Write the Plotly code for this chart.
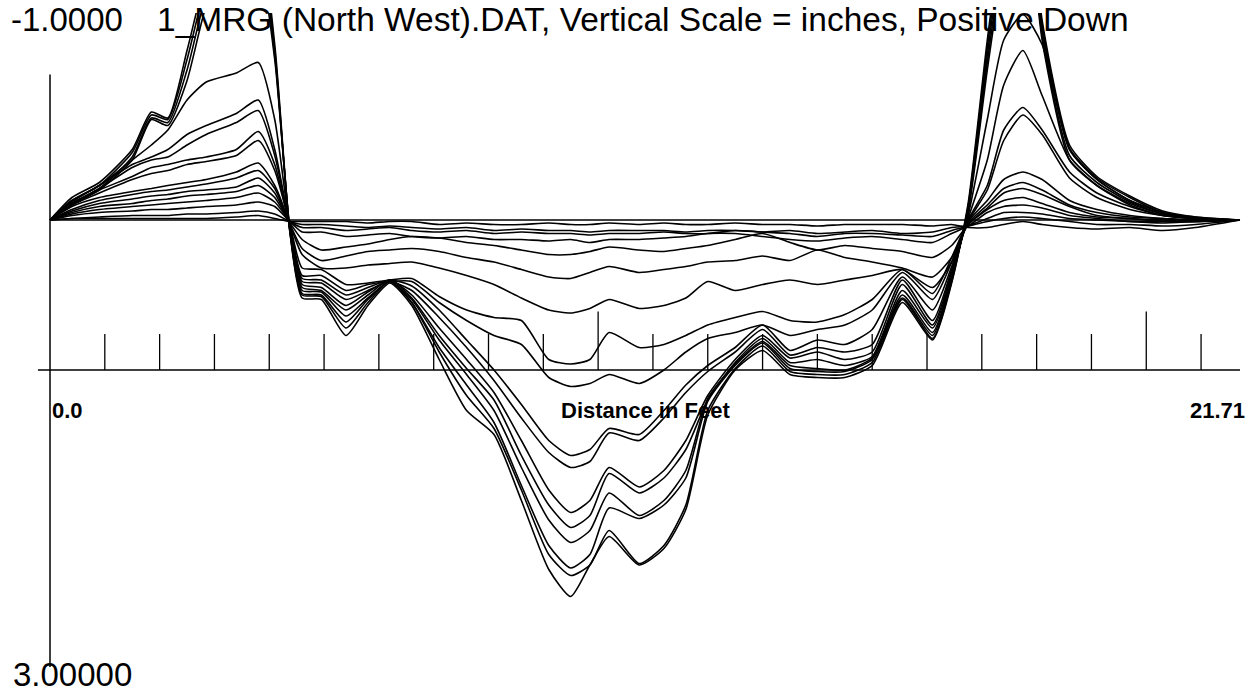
import plotly.graph_objects as go

# Distance along the transverse profile (feet)
DIST_FT = [0.0, 0.4, 0.9, 1.5, 1.85, 2.15, 2.5, 2.85, 3.4, 3.8, 4.1, 4.38, 4.6,
           4.95, 5.4, 5.8, 6.2, 6.6, 7.1, 7.6, 8.1, 8.6, 9.1, 9.5, 9.85, 10.2, 10.75,
           11.2, 11.6, 12.0, 12.5, 13.0, 13.5, 14.0, 14.5, 15.0, 15.55, 16.1, 16.45,
           16.75, 17.1, 17.4, 17.75, 18.1, 18.6, 19.1, 19.7, 20.3, 20.9, 21.71]

# Elevation change (inches, positive down), one list per survey
SURVEY_01 = [0.00, 0.00, 0.00, 0.00, 0.00, 0.00, 0.00, 0.00, 0.00, 0.00, 0.00, 0.00, 0.00,
             0.00, 0.00, 0.00, 0.00, 0.00, 0.00, 0.00, 0.00, 0.00, 0.00, 0.00, 0.00, 0.00,
             0.00, 0.00, 0.00, 0.00, 0.00, 0.00, 0.00, 0.00, 0.00, 0.00, 0.00, 0.00, 0.00,
             0.00, 0.00, 0.00, 0.00, 0.00, 0.00, 0.00, 0.00, 0.00, 0.00, 0.00]
SURVEY_02 = [0.00, -0.01, -0.01, -0.01, -0.01, -0.01, -0.01, -0.01, -0.02, -0.03, -0.01, 0.01, 0.01,
             0.01, 0.01, 0.02, 0.01, 0.01, 0.03, 0.02, 0.03, 0.03, 0.02, 0.03, 0.03, 0.02, 0.03,
             0.02, 0.03, 0.03, 0.02, 0.03, 0.03, 0.04, 0.03, 0.03, 0.03, 0.04, 0.03,
             0.05, 0.05, 0.03, 0.01, 0.03, 0.05, 0.06, 0.05, 0.07, 0.05, 0.00]
SURVEY_03 = [0.00, -0.01, -0.02, -0.03, -0.03, -0.03, -0.04, -0.04, -0.05, -0.06, -0.04, 0.01, 0.03,
             0.03, 0.04, 0.05, 0.04, 0.05, 0.06, 0.05, 0.07, 0.06, 0.07, 0.07, 0.08, 0.07, 0.07,
             0.07, 0.08, 0.07, 0.07, 0.08, 0.07, 0.09, 0.08, 0.07, 0.09, 0.08, 0.05,
             0.04, 0.01, -0.01, -0.02, -0.01, 0.01, 0.03, 0.03, 0.04, 0.03, 0.00]
SURVEY_04 = [0.00, -0.03, -0.05, -0.06, -0.07, -0.07, -0.08, -0.09, -0.10, -0.12, -0.09, 0.01, 0.05,
             0.05, 0.07, 0.06, 0.05, 0.07, 0.08, 0.07, 0.09, 0.08, 0.09, 0.09, 0.10, 0.09, 0.09,
             0.08, 0.09, 0.09, 0.07, 0.08, 0.09, 0.11, 0.09, 0.09, 0.10, 0.11, 0.07,
             0.04, -0.01, -0.05, -0.05, -0.04, -0.01, 0.00, 0.01, 0.02, 0.01, 0.00]
SURVEY_05 = [0.00, -0.04, -0.07, -0.09, -0.10, -0.11, -0.12, -0.13, -0.15, -0.18, -0.12, 0.01, 0.08,
             0.08, 0.11, 0.10, 0.09, 0.11, 0.12, 0.11, 0.13, 0.13, 0.14, 0.13, 0.15, 0.13, 0.13,
             0.12, 0.11, 0.09, 0.09, 0.11, 0.13, 0.14, 0.12, 0.11, 0.13, 0.15, 0.09,
             0.04, -0.05, -0.09, -0.10, -0.08, -0.03, -0.01, 0.01, 0.01, 0.01, 0.00]
SURVEY_06 = [0.00, -0.05, -0.09, -0.11, -0.13, -0.14, -0.16, -0.17, -0.19, -0.23, -0.15, 0.02, 0.13,
             0.20, 0.18, 0.16, 0.13, 0.11, 0.12, 0.15, 0.17, 0.20, 0.23, 0.23, 0.21, 0.18, 0.20,
             0.21, 0.19, 0.17, 0.13, 0.09, 0.15, 0.20, 0.17, 0.19, 0.21, 0.25, 0.17,
             0.03, -0.07, -0.13, -0.15, -0.11, -0.05, -0.02, -0.01, 0.01, 0.01, 0.00]
SURVEY_07 = [0.00, -0.06, -0.11, -0.14, -0.16, -0.17, -0.19, -0.20, -0.22, -0.28, -0.18, 0.03, 0.19,
             0.27, 0.24, 0.21, 0.20, 0.19, 0.21, 0.25, 0.28, 0.33, 0.38, 0.39, 0.35, 0.31, 0.35,
             0.33, 0.31, 0.28, 0.27, 0.24, 0.27, 0.20, 0.25, 0.28, 0.32, 0.38, 0.25,
             0.03, -0.08, -0.18, -0.21, -0.17, -0.09, -0.03, -0.01, 0.00, 0.01, 0.00]
SURVEY_08 = [0.00, -0.07, -0.13, -0.17, -0.19, -0.20, -0.22, -0.24, -0.28, -0.33, -0.21, 0.03, 0.23,
             0.32, 0.32, 0.30, 0.29, 0.28, 0.32, 0.37, 0.43, 0.52, 0.60, 0.62, 0.59, 0.53, 0.59,
             0.57, 0.52, 0.41, 0.47, 0.43, 0.40, 0.43, 0.40, 0.37, 0.33, 0.45, 0.28,
             0.02, -0.10, -0.21, -0.25, -0.20, -0.10, -0.05, -0.02, -0.01, 0.00, 0.00]
SURVEY_09 = [0.00, -0.09, -0.15, -0.19, -0.21, -0.23, -0.25, -0.27, -0.32, -0.38, -0.23, 0.04, 0.32,
             0.33, 0.43, 0.42, 0.40, 0.39, 0.51, 0.60, 0.65, 0.67, 0.93, 0.96, 0.93, 0.75, 0.85,
             0.83, 0.77, 0.70, 0.65, 0.61, 0.67, 0.68, 0.63, 0.53, 0.33, 0.49, 0.25,
             0.01, -0.13, -0.27, -0.32, -0.27, -0.13, -0.07, -0.03, -0.01, 0.00, 0.00]
SURVEY_10 = [0.00, -0.10, -0.18, -0.27, -0.31, -0.33, -0.37, -0.39, -0.43, -0.53, -0.33, 0.04, 0.37,
             0.37, 0.47, 0.43, 0.41, 0.41, 0.55, 0.67, 0.77, 0.83, 1.05, 1.11, 1.09, 1.03, 1.09,
             1.00, 0.88, 0.79, 0.75, 0.70, 0.77, 0.73, 0.70, 0.60, 0.35, 0.53, 0.28,
             0.01, -0.20, -0.53, -0.70, -0.57, -0.28, -0.15, -0.07, -0.03, -0.01, 0.00]
SURVEY_11 = [0.00, -0.11, -0.20, -0.29, -0.35, -0.37, -0.40, -0.42, -0.47, -0.59, -0.37, 0.05, 0.39,
             0.40, 0.50, 0.45, 0.40, 0.44, 0.60, 0.80, 1.00, 1.23, 1.47, 1.57, 1.53, 1.39, 1.43,
             1.27, 1.10, 0.97, 0.85, 0.70, 0.87, 0.80, 0.83, 0.73, 0.38, 0.60, 0.31,
             0.00, -0.23, -0.60, -0.75, -0.60, -0.32, -0.18, -0.09, -0.03, -0.01, 0.00]
SURVEY_12 = [0.00, -0.11, -0.21, -0.35, -0.40, -0.42, -0.50, -0.57, -0.65, -0.73, -0.43, 0.05, 0.41,
             0.42, 0.53, 0.47, 0.41, 0.47, 0.65, 0.85, 1.07, 1.32, 1.55, 1.65, 1.61, 1.42, 1.47,
             1.32, 1.15, 1.01, 0.88, 0.73, 0.90, 0.85, 0.88, 0.83, 0.40, 0.67, 0.33,
             -0.01, -0.40, -0.90, -1.13, -0.83, -0.40, -0.23, -0.11, -0.04, -0.01, 0.00]
SURVEY_13 = [0.00, -0.12, -0.23, -0.37, -0.42, -0.47, -0.57, -0.63, -0.71, -0.80, -0.47, 0.06, 0.43,
             0.45, 0.57, 0.48, 0.40, 0.50, 0.72, 0.93, 1.15, 1.47, 1.80, 1.95, 1.87, 1.65, 1.78,
             1.67, 1.47, 1.17, 0.93, 0.77, 0.92, 0.88, 0.93, 0.88, 0.43, 0.70, 0.35,
             -0.03, -0.67, -1.20, -1.37, -1.17, -0.47, -0.27, -0.13, -0.05, -0.01, 0.00]
SURVEY_14 = [0.00, -0.13, -0.23, -0.40, -0.50, -0.60, -0.80, -0.92, -0.98, -1.05, -0.67, 0.07, 0.45,
             0.47, 0.60, 0.50, 0.40, 0.52, 0.77, 0.99, 1.20, 1.57, 1.90, 2.05, 1.97, 1.69, 1.82,
             1.72, 1.53, 1.20, 0.95, 0.79, 0.95, 0.93, 0.97, 0.91, 0.47, 0.72, 0.37,
             -0.05, -1.00, -1.73, -2.27, -1.20, -0.40, -0.23, -0.10, -0.03, -0.01, 0.00]
SURVEY_15 = [0.00, -0.10, -0.20, -0.40, -0.67, -0.63, -0.93, -1.43, -1.87, -1.73, -1.07, 0.07, 0.47,
             0.48, 0.64, 0.52, 0.41, 0.53, 0.80, 1.03, 1.27, 1.65, 2.00, 2.15, 2.07, 1.82, 1.97,
             1.87, 1.67, 1.19, 0.96, 0.81, 0.97, 0.99, 1.00, 0.92, 0.50, 0.75, 0.38,
             -0.07, -1.05, -1.80, -2.33, -1.23, -0.43, -0.25, -0.12, -0.04, -0.01, 0.00]
SURVEY_16 = [0.00, -0.11, -0.21, -0.42, -0.68, -0.65, -1.00, -1.50, -1.93, -1.80, -1.10, 0.08, 0.49,
             0.50, 0.68, 0.53, 0.41, 0.55, 0.85, 1.10, 1.35, 1.77, 2.17, 2.32, 2.23, 1.92, 1.99,
             1.90, 1.72, 1.21, 0.97, 0.82, 0.99, 1.01, 1.01, 0.93, 0.52, 0.77, 0.39,
             -0.08, -1.10, -1.87, -2.40, -1.27, -0.47, -0.27, -0.13, -0.05, -0.01, 0.00]
SURVEY_17 = [0.00, -0.13, -0.23, -0.45, -0.70, -0.67, -1.07, -1.57, -2.00, -1.87, -1.13, 0.09, 0.50,
             0.51, 0.72, 0.55, 0.41, 0.55, 0.88, 1.17, 1.39, 1.80, 2.23, 2.37, 2.30, 2.07, 2.29,
             2.17, 1.90, 1.27, 0.99, 0.84, 1.01, 1.03, 1.03, 0.95, 0.53, 0.79, 0.41,
             -0.09, -1.15, -1.93, -2.47, -1.30, -0.48, -0.28, -0.15, -0.05, -0.02, 0.00]
SURVEY_18 = [0.00, -0.15, -0.25, -0.47, -0.72, -0.68, -1.13, -1.63, -2.07, -1.93, -1.17, 0.09, 0.52,
             0.53, 0.77, 0.57, 0.42, 0.57, 0.93, 1.27, 1.43, 1.87, 2.33, 2.51, 2.30, 2.11, 2.30,
             2.19, 1.93, 1.30, 1.00, 0.87, 1.03, 1.05, 1.05, 0.97, 0.55, 0.80, 0.42,
             -0.11, -1.20, -2.00, -2.53, -1.33, -0.50, -0.29, -0.16, -0.06, -0.02, 0.00]

SURVEYS = [SURVEY_01, SURVEY_02, SURVEY_03, SURVEY_04, SURVEY_05, SURVEY_06,
           SURVEY_07, SURVEY_08, SURVEY_09, SURVEY_10, SURVEY_11, SURVEY_12,
           SURVEY_13, SURVEY_14, SURVEY_15, SURVEY_16, SURVEY_17, SURVEY_18]

# Distance-axis ticks (feet) and scale labels
TICK_FT = [1, 2, 3, 4, 5, 6, 7, 8, 9, 10, 11, 12, 13, 14, 15, 16, 17, 18, 19, 20, 21]
LONG_TICK_FT = [10, 20]
PROFILE_LENGTH = 21.71
SCALE_TOP = -1.0
SCALE_BOTTOM = 3.0
AXIS_LEVEL = 1.0
TITLE = "1_MRG (North West).DAT, Vertical Scale = inches, Positive Down"
X_LABEL = "Distance in Feet"

for s in SURVEYS:
    assert len(s) == len(DIST_FT)

fig = go.Figure()
for s in SURVEYS:
    fig.add_trace(go.Scatter(x=DIST_FT, y=s, mode="lines",
                             line=dict(color="black", width=1.6, shape="spline", smoothing=0.6),
                             hoverinfo="skip", showlegend=False))

# tick marks on the distance axis
tx, ty = [], []
for t in TICK_FT:
    top = AXIS_LEVEL - (0.39 if t in LONG_TICK_FT else 0.24)
    tx += [t, t, None]
    ty += [AXIS_LEVEL, top, None]
fig.add_trace(go.Scatter(x=tx, y=ty, mode="lines", line=dict(color="black", width=1.3),
                         hoverinfo="skip", showlegend=False))

shapes = [
    dict(type="line", xref="x", yref="y", x0=-0.22, x1=PROFILE_LENGTH, y0=AXIS_LEVEL, y1=AXIS_LEVEL,
         line=dict(color="black", width=1.5)),
    dict(type="line", xref="x", yref="y", x0=0, x1=0, y0=SCALE_TOP + 0.03, y1=SCALE_BOTTOM - 0.02,
         line=dict(color="black", width=1.5)),
]

big = dict(family="Liberation Sans, Arial, sans-serif", size=33, color="black")
title_font = dict(family="Liberation Sans, Arial, sans-serif", size=33.5, color="black")
bold = dict(family="Liberation Sans, Arial, sans-serif", size=22, color="black", weight="bold")

annotations = [
    dict(x=-0.75, y=-1.34, xref="x", yref="y", text=f"{SCALE_TOP:.4f}", showarrow=False,
         xanchor="left", yanchor="middle", font=big),
    dict(x=1.92, y=-1.34, xref="x", yref="y", text=TITLE, showarrow=False,
         xanchor="left", yanchor="middle", font=title_font),
    dict(x=-0.72, y=3.03, xref="x", yref="y", text=f"{SCALE_BOTTOM:.5f}", showarrow=False,
         xanchor="left", yanchor="middle", font=big),
    dict(x=0.0, y=1.27, xref="x", yref="y", text="0.0", showarrow=False,
         xanchor="left", yanchor="middle", font=bold),
    dict(x=PROFILE_LENGTH / 2, y=1.27, xref="x", yref="y", text=X_LABEL, showarrow=False,
         xanchor="center", yanchor="middle", font=bold),
    dict(x=21.84, y=1.27, xref="x", yref="y", text=f"{PROFILE_LENGTH:.2f}", showarrow=False,
         xanchor="right", yanchor="middle", font=bold),
]

fig.update_layout(
    width=1257, height=694,
    margin=dict(l=0, r=0, t=13, b=0),
    paper_bgcolor="white", plot_bgcolor="white",
    xaxis=dict(range=[-0.9122, 22.0203], visible=False, fixedrange=True),
    yaxis=dict(range=[3.16, -1.38], visible=False, fixedrange=True),
    shapes=shapes, annotations=annotations,
    hovermode=False,
)

fig.write_html("out.html", config={"displayModeBar": False})
